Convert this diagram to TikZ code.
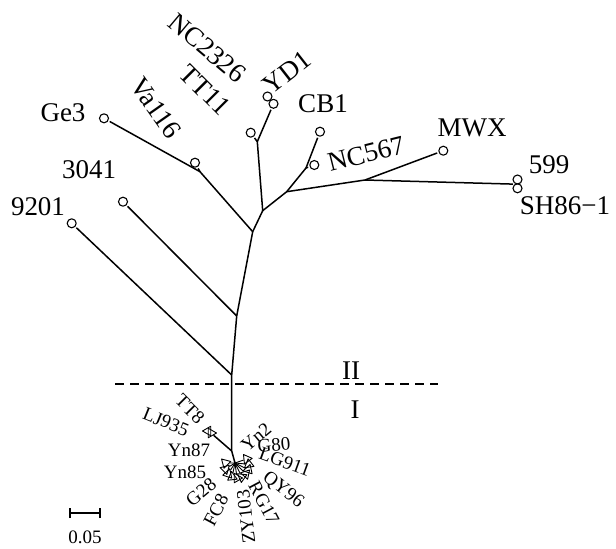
\documentclass[tikz,border=0pt]{standalone}
\usepackage{fontspec}
\setmainfont{Liberation Serif}
\usetikzlibrary{shapes.geometric}
\begin{document}
\begin{tikzpicture}[x=1pt, y=-1pt, line join=round,
  leaf/.style={circle, draw, line width=1.1pt, inner sep=0pt, minimum size=9pt, outer sep=2pt},
  tri/.style={regular polygon, regular polygon sides=3, draw, line width=0.9pt, inner sep=0pt, minimum size=11pt},
  branch/.style={line width=1.5pt},
  lab/.style={font=\fontsize{27}{27}\selectfont, inner sep=0pt},
  slab/.style={font=\fontsize{19}{19}\selectfont, inner sep=0pt}]
\useasboundingbox (0,0) rectangle (616,549);
% junctions
\coordinate (tip) at (235,463);
\coordinate (jI) at (231.7,451);
\coordinate (jA) at (231.7,375);
\coordinate (jB) at (236.7,316);
\coordinate (j1) at (252.7,231.7);
\coordinate (j2) at (262.7,210.7);
\coordinate (jT) at (257.3,141.7);
\coordinate (j3) at (286.7,191.7);
\coordinate (jN) at (306,168);
\coordinate (j4) at (365,180);
\coordinate (jV) at (200,171.7);
% group II leaves
\node[leaf] (n9201) at (71.7,223.3) {};
\node[leaf] (n3041) at (123,201.7) {};
\node[leaf] (ge3) at (104,118.3) {};
\node[leaf] (va116) at (195,162.7) {};
\node[leaf] (tt11) at (250.7,132.7) {};
\node[leaf] (nc2326) at (267.5,96.5) {};
\node[leaf] (yd1) at (273.5,103.8) {};
\node[leaf] (cb1) at (320,131.7) {};
\node[leaf] (nc567) at (314.3,165) {};
\node[leaf] (mwx) at (443.3,150.7) {};
\node[leaf] (n599) at (517.5,179.5) {};
\node[leaf] (sh86) at (517.5,188.3) {};
% branches
\draw[branch] (tip) -- (jI) -- (jA) -- (jB) -- (j1) -- (j2) -- (j3) -- (j4) -- (mwx);
\draw[branch] (jA) -- (n9201);
\draw[branch] (jB) -- (n3041);
\draw[branch] (j1) -- (jV) -- (ge3);
\draw[branch] (jV) -- (va116);
\draw[branch] (j2) -- (jT) -- (tt11);
\draw[branch] (jT) -- (yd1);
\draw[branch] (j3) -- (jN) -- (cb1);
\draw[branch] (jN) -- (nc567);
\draw[branch] (j4) -- (n599.south west);
% labels
\node[lab] at (38,207) {9201};
\node[lab] at (89,170) {3041};
\node[lab] at (63,113) {Ge3};
\node[lab, rotate=-55] at (156,108) {Va116};
\node[lab, rotate=-45] at (205,90) {TT11};
\node[lab, rotate=-40] at (207,48) {NC2326};
\node[lab, rotate=38] at (287,72) {YD1};
\node[lab] at (323,104) {CB1};
\node[lab, rotate=14] at (366,154) {NC567};
\node[lab] at (472,128) {MWX};
\node[lab] at (549,165) {599};
\node[lab] at (565,206) {SH86−1};
% group boundary
\coordinate (dl) at (115,384);
\coordinate (dr) at (438,384);
\draw[line width=1.5pt, dash pattern=on 9pt off 6pt] (dl) -- (dr);
\node[lab] at (351,371) {II};
\node[lab] at (355,410) {I};
% group I
\node[tri, rotate=30] (tt8) at (211,433) {};
\node[tri, rotate=210] (lj935) at (208,431) {};
\draw[branch] (jI) -- (tt8);
\foreach \name/\ang in {yn87/165, yn85/195, g28/222, fc8/246, zy103/270, rg17/294, qy96/318, lg911/342, g80/8, yn2/36}
{
  \node[tri, rotate=\ang] (\name) at ([shift={(\ang:12pt)}]237,466) {};
  \draw[line width=0.9pt] (tip) -- (\name);
}
\node[slab, rotate=-45] at (190,409) {TT8};
\node[slab, rotate=-22] at (166,422) {LJ935};
\node[slab] at (189,450) {Yn87};
\node[slab] at (185,472) {Yn85};
\node[slab, rotate=40] at (201,492) {G28};
\node[slab, rotate=62] at (216,510) {FC8};
\node[slab, rotate=97] at (246,517) {ZY103};
\node[slab, rotate=-62] at (264,503) {RG17};
\node[slab, rotate=-38] at (283,490) {QY96};
\node[slab, rotate=-20] at (285,462) {LG911};
\node[slab, rotate=5] at (274,445) {G80};
\node[slab, rotate=40] at (256,437) {Yn2};
% scale bar
\coordinate (sbl) at (70,513);
\coordinate (sbr) at (100,513);
\draw[line width=1.5pt] (sbl) -- (sbr);
\draw[line width=1.5pt] ([yshift=-5pt]sbl) -- ([yshift=5pt]sbl);
\draw[line width=1.5pt] ([yshift=-5pt]sbr) -- ([yshift=5pt]sbr);
\node[slab] at (85,537) {0.05};
\end{tikzpicture}
\end{document}
